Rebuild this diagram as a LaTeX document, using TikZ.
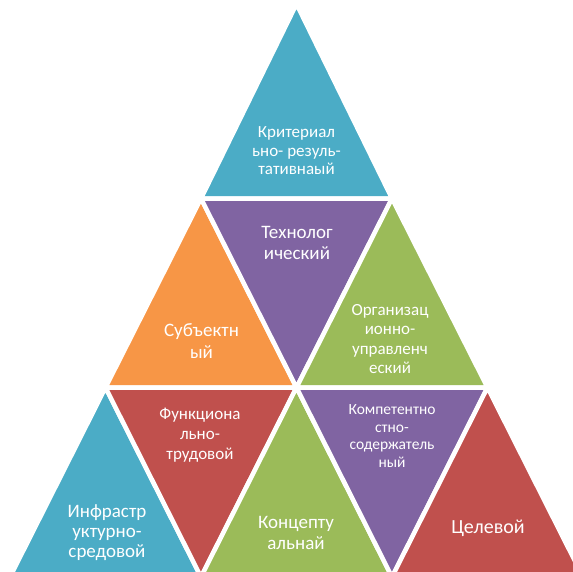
\documentclass[tikz,border=0pt]{standalone}
\usepackage{fontspec}
\setmainfont{Carlito}
\definecolor{cCyan}{HTML}{4BACC6}
\definecolor{cPurple}{HTML}{8064A2}
\definecolor{cOrange}{HTML}{F79646}
\definecolor{cGreen}{HTML}{9BBB59}
\definecolor{cRed}{HTML}{C0504D}
\begin{document}
\begin{tikzpicture}[x=1pt,y=-1pt,
  tri/.style={draw=white,line width=4.5pt,line join=miter},
  lbl/.style={text=white,align=center,inner sep=0pt}]
\useasboundingbox (0,0) rectangle (573,571);
\clip (0,0) rectangle (573,571);
\coordinate (T) at (296.5,4);
\coordinate (P10) at (201,198.5);
\coordinate (P11) at (392,198.5);
\coordinate (P20) at (105.5,387.5);
\coordinate (P21) at (296.5,387.5);
\coordinate (P22) at (487.5,387.5);
\coordinate (P30) at (10,577);
\coordinate (P31) at (201,577);
\coordinate (P32) at (392,577);
\coordinate (P33) at (583,577);
\filldraw[tri,fill=cCyan] (T) -- (P10) -- (P11) -- cycle;
\filldraw[tri,fill=cOrange] (P10) -- (P20) -- (P21) -- cycle;
\filldraw[tri,fill=cPurple] (P10) -- (P11) -- (P21) -- cycle;
\filldraw[tri,fill=cGreen] (P11) -- (P21) -- (P22) -- cycle;
\filldraw[tri,fill=cCyan] (P20) -- (P30) -- (P31) -- cycle;
\filldraw[tri,fill=cRed] (P20) -- (P21) -- (P31) -- cycle;
\filldraw[tri,fill=cGreen] (P21) -- (P31) -- (P32) -- cycle;
\filldraw[tri,fill=cPurple] (P21) -- (P22) -- (P32) -- cycle;
\filldraw[tri,fill=cRed] (P22) -- (P32) -- (P33) -- cycle;

\node[lbl,font=\fontsize{17}{18.5}\selectfont] (t1) at (296.5,151) {Критериал\\ьно- резуль-\\тативнаый};
\node[lbl,font=\fontsize{19}{21.5}\selectfont] (t2) at (297,243) {Технолог\\ический};
\node[lbl,font=\fontsize{19}{21.5}\selectfont] (t3) at (201.5,341) {Субъектн\\ый};
\node[lbl,font=\fontsize{17}{19.5}\selectfont] (t4) at (390,339) {Организац\\ионно-\\управленч\\еский};
\node[lbl,font=\fontsize{17}{20}\selectfont] (t5) at (200,435) {Функциона\\льно-\\трудовой};
\node[lbl,font=\fontsize{19}{20}\selectfont] (t6) at (107,533) {Инфрастр\\уктурно-\\средовой};
\node[lbl,font=\fontsize{19}{20.5}\selectfont] (t7) at (296,533) {Концепту\\альнай};
\node[lbl,font=\fontsize{15.5}{17.5}\selectfont] (t8) at (392,436) {Компетентно\\стно-\\содержатель\\ный};
\node[lbl,font=\fontsize{20}{24}\selectfont] (t9) at (488,528) {Целевой};
\end{tikzpicture}
\end{document}
